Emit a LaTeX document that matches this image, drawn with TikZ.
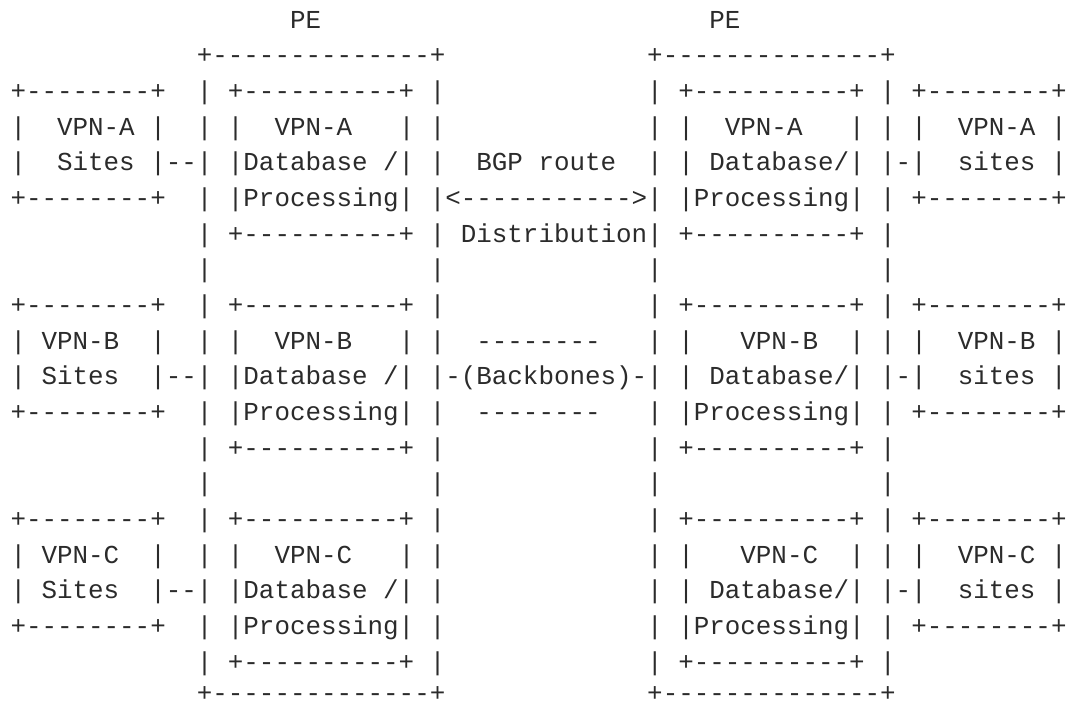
\documentclass[tikz,border=0pt]{standalone}
\usepackage{fontspec}
\setmonofont{Liberation Mono}
\definecolor{ink}{HTML}{2B2B2B}
\tikzset{asc/.style={anchor=base west, inner sep=0pt, outer sep=0pt, text=ink,
  font=\ttfamily\fontsize{25.88pt}{35.65pt}\selectfont}}
\newcommand\txt[3]{\node[asc] (r#1c#2) at ({10.5+#2*15.53},{28.3+(#1-1)*35.65}) {#3};}
\newcommand\txtlast[2]{\node[asc] (r20c#1) at ({10.5+#1*15.53},{28.3+19*35.65-4.5}) {#2};}
\begin{document}
\begin{tikzpicture}[x=1pt,y=-1pt]
\useasboundingbox (0,0) rectangle (1071,704);
% row 1
\txt{1}{18}{PE}\txt{1}{45}{PE}
% row 2
\txt{2}{12}{+--------------+}\txt{2}{41}{+--------------+}
% row 3
\txt{3}{0}{+--------+}\txt{3}{12}{|}\txt{3}{14}{+----------+}\txt{3}{27}{|}
\txt{3}{41}{|}\txt{3}{43}{+----------+}\txt{3}{56}{|}\txt{3}{58}{+--------+}
% row 4
\txt{4}{0}{|}\txt{4}{3}{VPN-A}\txt{4}{9}{|}\txt{4}{12}{|}\txt{4}{14}{|}\txt{4}{17}{VPN-A}\txt{4}{25}{|}\txt{4}{27}{|}
\txt{4}{41}{|}\txt{4}{43}{|}\txt{4}{46}{VPN-A}\txt{4}{54}{|}\txt{4}{56}{|}\txt{4}{58}{|}\txt{4}{61}{VPN-A}\txt{4}{67}{|}
% row 5
\txt{5}{0}{|}\txt{5}{3}{Sites}\txt{5}{9}{|--|}\txt{5}{14}{|Database /|}\txt{5}{27}{|}\txt{5}{30}{BGP route}
\txt{5}{41}{|}\txt{5}{43}{|}\txt{5}{45}{Database/|}\txt{5}{56}{|-|}\txt{5}{61}{sites}\txt{5}{67}{|}
% row 6
\txt{6}{0}{+--------+}\txt{6}{12}{|}\txt{6}{14}{|Processing|}\txt{6}{27}{|<----------->|}
\txt{6}{43}{|Processing|}\txt{6}{56}{|}\txt{6}{58}{+--------+}
% row 7
\txt{7}{12}{|}\txt{7}{14}{+----------+}\txt{7}{27}{|}\txt{7}{29}{Distribution|}\txt{7}{43}{+----------+}\txt{7}{56}{|}
% row 8
\txt{8}{12}{|}\txt{8}{27}{|}\txt{8}{41}{|}\txt{8}{56}{|}
% row 9
\txt{9}{0}{+--------+}\txt{9}{12}{|}\txt{9}{14}{+----------+}\txt{9}{27}{|}
\txt{9}{41}{|}\txt{9}{43}{+----------+}\txt{9}{56}{|}\txt{9}{58}{+--------+}
% row 10
\txt{10}{0}{|}\txt{10}{2}{VPN-B}\txt{10}{9}{|}\txt{10}{12}{|}\txt{10}{14}{|}\txt{10}{17}{VPN-B}\txt{10}{25}{|}\txt{10}{27}{|}\txt{10}{30}{--------}
\txt{10}{41}{|}\txt{10}{43}{|}\txt{10}{47}{VPN-B}\txt{10}{54}{|}\txt{10}{56}{|}\txt{10}{58}{|}\txt{10}{61}{VPN-B}\txt{10}{67}{|}
% row 11
\txt{11}{0}{|}\txt{11}{2}{Sites}\txt{11}{9}{|--|}\txt{11}{14}{|Database /|}\txt{11}{27}{|-(Backbones)-|}
\txt{11}{43}{|}\txt{11}{45}{Database/|}\txt{11}{56}{|-|}\txt{11}{61}{sites}\txt{11}{67}{|}
% row 12
\txt{12}{0}{+--------+}\txt{12}{12}{|}\txt{12}{14}{|Processing|}\txt{12}{27}{|}\txt{12}{30}{--------}\txt{12}{41}{|}
\txt{12}{43}{|Processing|}\txt{12}{56}{|}\txt{12}{58}{+--------+}
% row 13
\txt{13}{12}{|}\txt{13}{14}{+----------+}\txt{13}{27}{|}\txt{13}{41}{|}\txt{13}{43}{+----------+}\txt{13}{56}{|}
% row 14
\txt{14}{12}{|}\txt{14}{27}{|}\txt{14}{41}{|}\txt{14}{56}{|}
% row 15
\txt{15}{0}{+--------+}\txt{15}{12}{|}\txt{15}{14}{+----------+}\txt{15}{27}{|}
\txt{15}{41}{|}\txt{15}{43}{+----------+}\txt{15}{56}{|}\txt{15}{58}{+--------+}
% row 16
\txt{16}{0}{|}\txt{16}{2}{VPN-C}\txt{16}{9}{|}\txt{16}{12}{|}\txt{16}{14}{|}\txt{16}{17}{VPN-C}\txt{16}{25}{|}\txt{16}{27}{|}
\txt{16}{41}{|}\txt{16}{43}{|}\txt{16}{47}{VPN-C}\txt{16}{54}{|}\txt{16}{56}{|}\txt{16}{58}{|}\txt{16}{61}{VPN-C}\txt{16}{67}{|}
% row 17
\txt{17}{0}{|}\txt{17}{2}{Sites}\txt{17}{9}{|--|}\txt{17}{14}{|Database /|}\txt{17}{27}{|}
\txt{17}{41}{|}\txt{17}{43}{|}\txt{17}{45}{Database/|}\txt{17}{56}{|-|}\txt{17}{61}{sites}\txt{17}{67}{|}
% row 18
\txt{18}{0}{+--------+}\txt{18}{12}{|}\txt{18}{14}{|Processing|}\txt{18}{27}{|}\txt{18}{41}{|}
\txt{18}{43}{|Processing|}\txt{18}{56}{|}\txt{18}{58}{+--------+}
% row 19
\txt{19}{12}{|}\txt{19}{14}{+----------+}\txt{19}{27}{|}\txt{19}{41}{|}\txt{19}{43}{+----------+}\txt{19}{56}{|}
% row 20
\txtlast{12}{+--------------+}\txtlast{41}{+--------------+}
\end{tikzpicture}
\end{document}
